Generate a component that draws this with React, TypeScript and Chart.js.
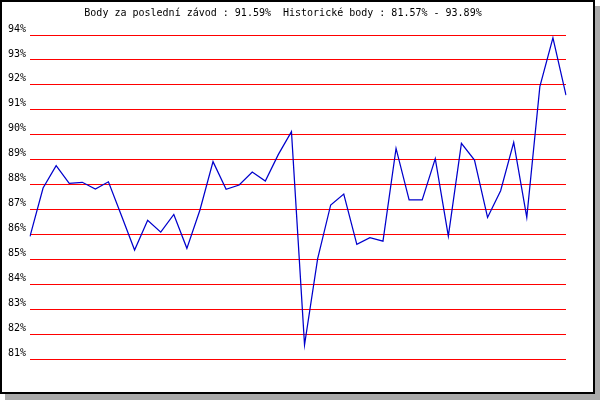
import React, { useEffect, useRef } from "react";
import { Chart, registerables } from "chart.js";

Chart.register(...registerables);

const titleText = "Body za poslední závod : 91.59%  Historické body : 81.57% - 93.89%";

const races: string[] = Array.from({ length: 42 }, (_, i) => String(i + 1));

const points: number[] = [
  85.92, 87.86, 88.76, 88.05, 88.09, 87.82, 88.11, 86.75, 85.37, 86.57,
  86.09, 86.8, 85.44, 86.98, 88.92, 87.81, 87.98, 88.5, 88.14, 89.21,
  90.12, 81.57, 85.02, 87.18, 87.62, 85.6, 85.87, 85.73, 89.45, 87.38,
  87.38, 89.04, 85.93, 89.65, 88.98, 86.68, 87.75, 89.69, 86.68, 91.93,
  93.89, 91.59,
];

const yMin = 81;
const yMax = 94;

export default function App() {
  const ref = useRef<HTMLCanvasElement | null>(null);

  useEffect(() => {
    document.body.style.margin = "0";
    const canvas = ref.current;
    if (!canvas) return;
    const chart = new Chart(canvas, {
      type: "line",
      data: {
        labels: races,
        datasets: [
          {
            data: points,
            borderColor: "#0000cc",
            borderWidth: 1.25,
            pointRadius: 0,
            tension: 0,
            fill: false,
          },
        ],
      },
      options: {
        animation: false,
        responsive: false,
        maintainAspectRatio: false,
        layout: { padding: { left: 0, right: 34, top: 0, bottom: 41 } },
        plugins: {
          legend: { display: false },
          tooltip: { enabled: false },
          title: {
            display: true,
            text: titleText,
            color: "#000",
            font: { family: "DejaVu Sans Mono", size: 10, weight: "normal" },
            padding: { top: 7, bottom: 16 },
          },
        },
        scales: {
          x: {
            type: "category",
            display: false,
            offset: false,
          },
          y: {
            min: yMin,
            max: yMax,
            border: { display: false },
            grid: { color: "#ff0000", lineWidth: 1, drawTicks: false },
            ticks: {
              stepSize: 1,
              color: "#000",
              padding: 4,
              labelOffset: -6,
              font: { family: "DejaVu Sans Mono", size: 10 },
              callback: (v: any) => v + "%",
            },
            afterFit: (scale: any) => {
              scale.width = 30;
            },
          },
        },
      },
    });
    return () => chart.destroy();
  }, []);

  return (
    <div style={{ position: "fixed", left: 0, top: 0, width: 600, height: 400, background: "#fff" }}>
      <div
        style={{
          position: "absolute",
          left: 0,
          top: 0,
          width: 591,
          height: 390,
          border: "2px solid #000",
          background: "#fff",
          boxShadow: "5px 6px 0 #aaaaaa",
        }}
      />
      <canvas
        ref={ref}
        width={600}
        height={400}
        style={{ position: "absolute", left: 0, top: 0, width: 600, height: 400 }}
      />
    </div>
  );
}
